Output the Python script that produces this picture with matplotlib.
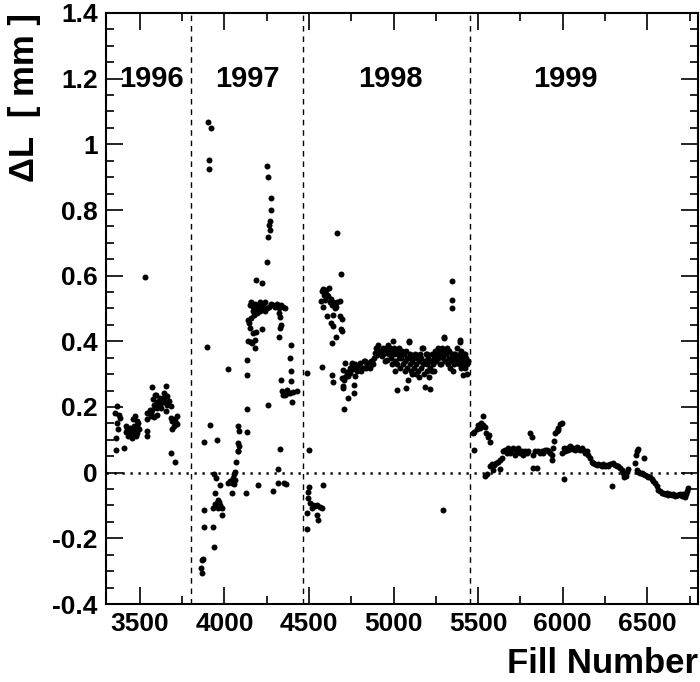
import numpy as np
import matplotlib
matplotlib.use("Agg")
import matplotlib.pyplot as plt
from matplotlib.ticker import MultipleLocator, FuncFormatter

plt.rcParams['font.family'] = ['Liberation Sans', 'DejaVu Sans']
plt.rcParams['font.weight'] = 'bold'
plt.rcParams['axes.unicode_minus'] = False

# ---------------- data ----------------
year_labels = ['1996', '1997', '1998', '1999']
year_label_x = [3566, 4134, 4980, 6014]
year_boundaries = [3800, 4465, 5452]

# (fill number, Delta L [mm])
pts_1996 = [
    (3363, 0.204), (3353, 0.182), (3377, 0.177), (3383, 0.167), (3367, 0.150), (3371, 0.134),
    (3357, 0.106), (3359, 0.069), (3406, 0.076),
    (3416, 0.142), (3426, 0.132), (3436, 0.121), (3446, 0.113), (3456, 0.106), (3465, 0.116),
    (3475, 0.127), (3442, 0.137), (3461, 0.162), (3471, 0.172), (3481, 0.157), (3485, 0.142),
    (3495, 0.132), (3465, 0.142), (3430, 0.111), (3475, 0.111), (3456, 0.127), (3485, 0.121),
    (3420, 0.125), (3450, 0.120), (3490, 0.150),
    (3544, 0.127), (3544, 0.111), (3544, 0.164), (3540, 0.182),
    (3564, 0.182), (3574, 0.192), (3584, 0.207), (3580, 0.223), (3588, 0.238), (3574, 0.261),
    (3594, 0.238), (3564, 0.172), (3584, 0.170), (3599, 0.177), (3603, 0.197), (3560, 0.192),
    (3613, 0.218), (3600, 0.215), (3595, 0.200),
    (3619, 0.228), (3633, 0.223), (3643, 0.228), (3653, 0.265), (3643, 0.243), (3662, 0.233),
    (3672, 0.218), (3627, 0.197), (3653, 0.187), (3682, 0.202), (3662, 0.207), (3620, 0.205),
    (3640, 0.215),
    (3682, 0.167), (3692, 0.157), (3702, 0.142), (3712, 0.152), (3722, 0.174), (3718, 0.147),
    (3692, 0.132), (3706, 0.162),
    (3686, 0.059), (3706, 0.032), (3531, 0.595),
]

pts_1997 = [
    (3905, 1.069), (3919, 1.051), (3911, 0.953), (3909, 0.926),
    (4250, 0.935), (4256, 0.902), (4275, 0.838), (4275, 0.799), (4270, 0.768), (4264, 0.755),
    (4270, 0.740), (4256, 0.717), (4252, 0.643), (4185, 0.588), (4224, 0.577),
    (4151, 0.510), (4160, 0.520), (4170, 0.505), (4180, 0.515), (4190, 0.500), (4200, 0.510),
    (4210, 0.520), (4220, 0.505), (4230, 0.515), (4240, 0.520), (4250, 0.500), (4265, 0.505),
    (4275, 0.515), (4285, 0.510), (4300, 0.505), (4310, 0.515), (4320, 0.500), (4335, 0.510),
    (4345, 0.505), (4358, 0.500), (4171, 0.491), (4191, 0.486), (4210, 0.491), (4240, 0.493),
    (4141, 0.464), (4151, 0.440), (4171, 0.425), (4185, 0.427), (4220, 0.438), (4138, 0.400),
    (4157, 0.397), (4181, 0.403), (4165, 0.395), (4181, 0.379), (4323, 0.486), (4329, 0.474),
    (4335, 0.450), (4329, 0.440), (4323, 0.412), (4147, 0.455), (4160, 0.470), (4175, 0.480),
    (3899, 0.384), (4394, 0.389), (4388, 0.349), (4394, 0.310), (4394, 0.278), (4333, 0.283),
    (4339, 0.248), (4348, 0.238), (4368, 0.253), (4388, 0.243), (4408, 0.245), (4427, 0.248),
    (4358, 0.238), (4402, 0.214), (4378, 0.243),
    (4019, 0.315), (4136, 0.344), (4136, 0.296), (4132, 0.195), (4256, 0.205),
    (3915, 0.146), (3881, 0.094), (3954, 0.101), (4078, 0.142), (4088, 0.126), (4132, 0.125),
    (4082, 0.091), (4086, 0.081), (4082, 0.067), (4078, 0.065), (4329, 0.072),
    (4067, 0.032), (4063, 0.003), (4059, -0.005), (4053, -0.016), (4063, -0.021), (4033, -0.026),
    (4023, -0.031), (4043, -0.031), (4059, -0.036), (4047, -0.062), (4128, -0.062), (4197, -0.039),
    (4285, -0.057), (4319, 0.012), (4315, -0.030), (4352, -0.032), (4362, -0.034),
    (3940, -0.003), (3948, -0.016), (3974, -0.038), (3944, -0.062), (3964, -0.082), (3954, -0.092),
    (3974, -0.097), (3935, -0.107), (3960, -0.107), (3984, -0.107), (3984, -0.128), (3944, -0.095),
    (3970, -0.090),
    (3879, -0.113), (3879, -0.166), (3931, -0.166), (3940, -0.226), (3875, -0.263), (3869, -0.267),
    (3862, -0.290), (3869, -0.305),
]

pts_1998 = [
    (4668, 0.730), (4687, 0.605),
    (4585, 0.560), (4601, 0.555), (4575, 0.552), (4620, 0.562), (4589, 0.542), (4615, 0.537),
    (4569, 0.523), (4595, 0.526), (4624, 0.521), (4634, 0.511), (4644, 0.521), (4664, 0.521),
    (4683, 0.524), (4581, 0.504), (4654, 0.502), (4609, 0.478), (4640, 0.480), (4683, 0.476),
    (4693, 0.468), (4628, 0.455), (4640, 0.447), (4687, 0.439), (4693, 0.430), (4660, 0.413),
    (4638, 0.395), (4605, 0.540), (4630, 0.530), (4660, 0.505),
    (4490, 0.303), (4575, 0.322), (4634, 0.296), (4644, 0.275), (4502, 0.070),
    (4713, 0.334), (4703, 0.313), (4723, 0.308), (4693, 0.288), (4707, 0.283), (4699, 0.263),
    (4703, 0.258), (4733, 0.293), (4743, 0.318), (4762, 0.315), (4772, 0.295), (4766, 0.268),
    (4766, 0.243), (4733, 0.227), (4709, 0.195), (4752, 0.334), (4782, 0.324), (4792, 0.313),
    (4802, 0.334), (4812, 0.318), (4831, 0.339), (4841, 0.324), (4851, 0.334), (4871, 0.339),
    (4881, 0.332), (4890, 0.364), (4900, 0.380), (4904, 0.359), (4920, 0.369), (4930, 0.354),
    (4940, 0.380), (4950, 0.364), (4960, 0.380), (4969, 0.364), (4963, 0.344),
    (4715, 0.290), (4725, 0.300), (4745, 0.305), (4755, 0.330), (4775, 0.330), (4785, 0.310),
    (4795, 0.320), (4805, 0.310), (4820, 0.320), (4825, 0.340), (4835, 0.320), (4845, 0.330),
    (4860, 0.320), (4865, 0.340), (4875, 0.330), (4885, 0.350), (4895, 0.380), (4910, 0.390),
    (4915, 0.370), (4925, 0.360), (4935, 0.375),
    (4945, 0.370), (4955, 0.380), (4965, 0.370), (4970, 0.390), (4975, 0.360), (4980, 0.380),
    (4985, 0.350), (4990, 0.370), (4995, 0.400), (5000, 0.360), (5005, 0.380), (5010, 0.340),
    (5015, 0.370), (5020, 0.330), (5025, 0.360), (5030, 0.350), (5035, 0.380), (5040, 0.320),
    (5045, 0.350), (5050, 0.370), (5055, 0.330), (5060, 0.360), (5065, 0.310), (5070, 0.340),
    (5075, 0.370), (5080, 0.320), (5085, 0.350), (5090, 0.400), (5095, 0.330), (5100, 0.360),
    (5105, 0.310), (5110, 0.340), (5115, 0.350), (5120, 0.320), (5125, 0.360), (5130, 0.300),
    (5135, 0.330), (5140, 0.350), (5145, 0.310), (5150, 0.340), (5155, 0.360), (5160, 0.320),
    (5165, 0.350), (5170, 0.380), (5175, 0.330), (5180, 0.300), (5185, 0.340), (5190, 0.360),
    (5195, 0.310), (5200, 0.330), (5205, 0.350), (5210, 0.290), (5215, 0.320), (5220, 0.340),
    (5225, 0.310), (5230, 0.360), (5235, 0.330), (5240, 0.350), (5245, 0.370), (5250, 0.340),
    (5255, 0.360), (5260, 0.380), (5265, 0.350), (5270, 0.370), (5275, 0.330), (5280, 0.360),
    (5285, 0.380), (5290, 0.350), (5295, 0.370), (5300, 0.410), (5305, 0.340), (5310, 0.360),
    (5315, 0.380), (5320, 0.330), (5325, 0.350), (5330, 0.370), (5335, 0.320), (5340, 0.340),
    (5345, 0.360), (5350, 0.310), (5355, 0.350), (5360, 0.330), (5365, 0.360), (5370, 0.340),
    (5375, 0.380), (5380, 0.350), (5385, 0.330), (5390, 0.360), (5395, 0.340), (5400, 0.370),
    (5405, 0.350), (5410, 0.330), (5415, 0.360), (5420, 0.340), (5425, 0.320), (5430, 0.350),
    (5435, 0.330), (5440, 0.340),
    (4950, 0.340), (4990, 0.330), (5010, 0.310), (5040, 0.360), (5080, 0.350), (5110, 0.300),
    (5150, 0.290), (5200, 0.360), (5240, 0.310), (5280, 0.330), (5320, 0.370), (5360, 0.360),
    (5400, 0.320), (5425, 0.360), (5435, 0.300),
    (5018, 0.253), (5071, 0.258), (5087, 0.283), (5186, 0.261), (5215, 0.254), (5412, 0.298),
    (5392, 0.405), (5393, 0.397), (5299, 0.413), (5092, 0.397), (5172, 0.380),
    (5344, 0.585), (5344, 0.527), (5344, 0.503), (5292, -0.113),
    (4502, -0.045), (4496, -0.060), (4581, -0.039), (4496, -0.077), (4506, -0.092), (4526, -0.097),
    (4536, -0.102), (4546, -0.097), (4565, -0.104), (4575, -0.107), (4490, -0.123), (4546, -0.128),
    (4555, -0.145), (4490, -0.171), (4516, -0.107),
]

pts_1999 = [
    (5477, 0.070), (5530, 0.174),
    (5477, 0.125), (5491, 0.132), (5501, 0.146), (5517, 0.152), (5530, 0.146), (5511, 0.135),
    (5540, 0.139), (5544, 0.121), (5556, 0.110), (5564, 0.115), (5570, 0.092), (5471, 0.121),
    (5540, -0.010), (5550, -0.004),
    (5570, 0.021), (5580, 0.027), (5595, 0.024), (5603, 0.029), (5590, 0.008), (5615, 0.034),
    (5629, 0.011), (5629, 0.039), (5639, 0.044),
    (5649, 0.065), (5659, 0.070), (5668, 0.060), (5678, 0.075), (5688, 0.060), (5698, 0.070),
    (5708, 0.075), (5718, 0.055), (5727, 0.065), (5737, 0.075), (5747, 0.060), (5757, 0.065),
    (5767, 0.055), (5777, 0.065), (5787, 0.060), (5797, 0.065), (5806, 0.121), (5816, 0.110),
    (5826, 0.055), (5836, 0.065), (5826, 0.015), (5846, 0.015), (5856, 0.065), (5865, 0.060),
    (5875, 0.065), (5885, 0.060), (5895, 0.068), (5905, 0.070), (5915, 0.065), (5925, 0.060),
    (5934, 0.039), (5938, 0.055), (5944, 0.075), (5950, 0.095), (5954, 0.121), (5964, 0.127),
    (5974, 0.137), (5984, 0.147), (5994, 0.152), (5970, 0.130),
    (5998, 0.060), (6007, 0.075), (6013, 0.065), (6007, -0.020), (6023, 0.075), (6033, 0.070),
    (6043, 0.080), (6053, 0.072), (6063, 0.075), (6073, 0.070), (6082, 0.078), (6092, 0.072),
    (6102, 0.070), (6112, 0.075), (6122, 0.068), (6132, 0.060), (6142, 0.065), (6151, 0.055),
    (6161, 0.044), (6171, 0.034), (6181, 0.029), (6191, 0.027), (6201, 0.024), (6210, 0.027),
    (6220, 0.024), (6230, 0.021), (6240, 0.027), (6250, 0.021), (6260, 0.024), (6269, 0.019),
    (6279, 0.027), (6289, -0.040), (6299, 0.030), (6309, 0.024), (6319, 0.019), (6329, 0.021),
    (6338, 0.015), (6348, 0.008), (6358, 0.000), (6364, -0.014), (6372, -0.010), (6378, 0.003),
    (6384, 0.010),
    (6427, 0.029), (6437, 0.065), (6443, 0.072), (6431, 0.055), (6482, 0.044),
    (6437, 0.008), (6447, 0.003), (6457, -0.002), (6467, 0.000), (6476, -0.004), (6486, -0.007),
    (6496, -0.010), (6506, -0.012), (6516, -0.014), (6526, -0.020), (6536, -0.024), (6545, -0.032),
    (6555, -0.042), (6565, -0.052), (6575, -0.057), (6585, -0.063), (6595, -0.061), (6605, -0.065),
    (6615, -0.063), (6624, -0.068), (6634, -0.065), (6644, -0.069), (6654, -0.066), (6664, -0.071),
    (6674, -0.067), (6683, -0.069), (6693, -0.065), (6703, -0.071), (6713, -0.065), (6723, -0.073),
    (6733, -0.057), (6739, -0.047), (6729, -0.066),
]

# ---------------- figure ----------------
fig = plt.figure(figsize=(7.0, 6.82), dpi=100)
ax = fig.add_axes([106 / 700, 1 - 604 / 682, 592 / 700, 591 / 682])

for pts in (pts_1996, pts_1997, pts_1998, pts_1999):
    arr = np.array(pts)
    ax.plot(arr[:, 0], arr[:, 1], 'o', ms=4.3, color='black', mec='none', zorder=3)

ax.set_xlim(3300, 6800)
ax.set_ylim(-0.4, 1.4)

for b in year_boundaries:
    ax.axvline(b, color='black', lw=1.0, ls=(0, (4, 3.5)), zorder=1)
ax.axhline(0, color='black', lw=1.8, ls=(0, (0.9, 2.3)), zorder=1)

for lab, x in zip(year_labels, year_label_x):
    ax.text(x, 1.2, lab, ha='center', va='center', fontsize=21, fontweight='bold')

ax.xaxis.set_major_locator(MultipleLocator(500))
ax.xaxis.set_minor_locator(MultipleLocator(250))
ax.yaxis.set_major_locator(MultipleLocator(0.2))
ax.yaxis.set_minor_locator(MultipleLocator(0.05))
ax.yaxis.set_major_formatter(FuncFormatter(lambda v, p: ('%g' % round(v, 2))))

ax.tick_params(which='both', direction='in', top=True, right=True, width=1.2)
ax.tick_params(which='major', length=12, labelsize=19, pad=6)
ax.tick_params(which='minor', length=6)
for lab in ax.get_xticklabels() + ax.get_yticklabels():
    lab.set_fontweight('bold')
for s in ax.spines.values():
    s.set_linewidth(1.5)

ax.set_xlabel('Fill Number', loc='right', fontsize=25, fontweight='bold', labelpad=8)
ax.set_ylabel('ΔL  [ mm ]', loc='top', fontsize=25, fontweight='bold', labelpad=8)

fig.savefig('out.png', dpi=100)
